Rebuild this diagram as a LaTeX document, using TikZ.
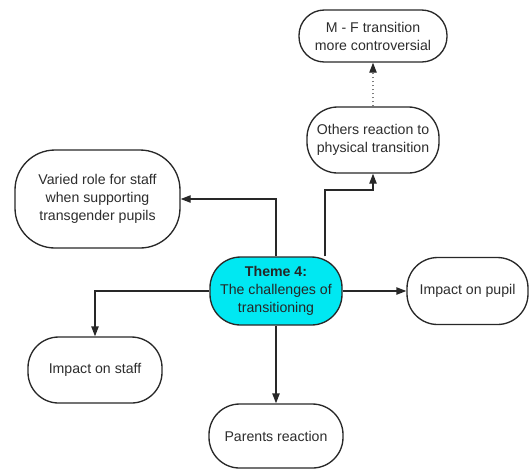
\documentclass[tikz,border=0pt]{standalone}
\usepackage{fontspec}
\setmainfont{Liberation Sans}
\usetikzlibrary{arrows.meta}
\definecolor{ink}{RGB}{40,40,40}
\definecolor{txt}{RGB}{45,45,45}
\definecolor{themecyan}{RGB}{0,232,242}
\tikzset{
  box/.style={draw=ink, line width=1pt, fill=white, rounded corners=23pt,
    align=center, text=txt, inner sep=0pt,
    font=\fontsize{10.6}{13.5}\selectfont},
  theme/.style={box, fill=themecyan, text=black!85},
  link/.style={draw=ink, line width=1pt, -{Triangle[length=7.5pt,width=5.5pt,color=ink]}},
}
\begin{document}
\begin{tikzpicture}[x=0.75pt, y=-0.75pt]
  \useasboundingbox (0,0) rectangle (530,469);

  % central theme
  \node[theme, minimum width=132*0.75pt, minimum height=68*0.75pt] (theme) at (276,291)
    {\textbf{Theme 4:}\\The challenges of\\transitioning};

  % sub-themes
  \node[box, rounded corners=30pt, minimum width=165*0.75pt, minimum height=98*0.75pt] (varied) at (97.5,199)
    {Varied role for staff\\when supporting\\transgender pupils};
  \node[box, minimum width=132*0.75pt, minimum height=66*0.75pt] (others) at (373,140)
    {Others reaction to\\physical transition};
  \node[box, rounded corners=19pt, minimum width=148*0.75pt, minimum height=52*0.75pt] (mf) at (373,36)
    {M - F transition\\more controversial};
  \node[box, minimum width=134*0.75pt, minimum height=66*0.75pt] (staff) at (95,370)
    {Impact on staff};
  \node[box, minimum width=134*0.75pt, minimum height=64*0.75pt] (parents) at (276,436)
    {Parents reaction};
  \node[box, minimum width=121*0.75pt, minimum height=67*0.75pt] (pupil) at (467.5,291)
    {Impact on pupil};

  % connectors
  \coordinate (bend) at (325,190);
  \draw[link] (theme.north) |- (varied.east);
  \draw[link] (bend |- theme.north) -- (bend) -| (others.south);
  \draw[link, draw=ink!60, dotted] (others.north) -- (mf.south);
  \draw[link] (theme.west) -| (staff.north);
  \draw[link] (theme.east) -- (pupil.west);
  \draw[link] (theme.south) -- (parents.north);
\end{tikzpicture}
\end{document}
